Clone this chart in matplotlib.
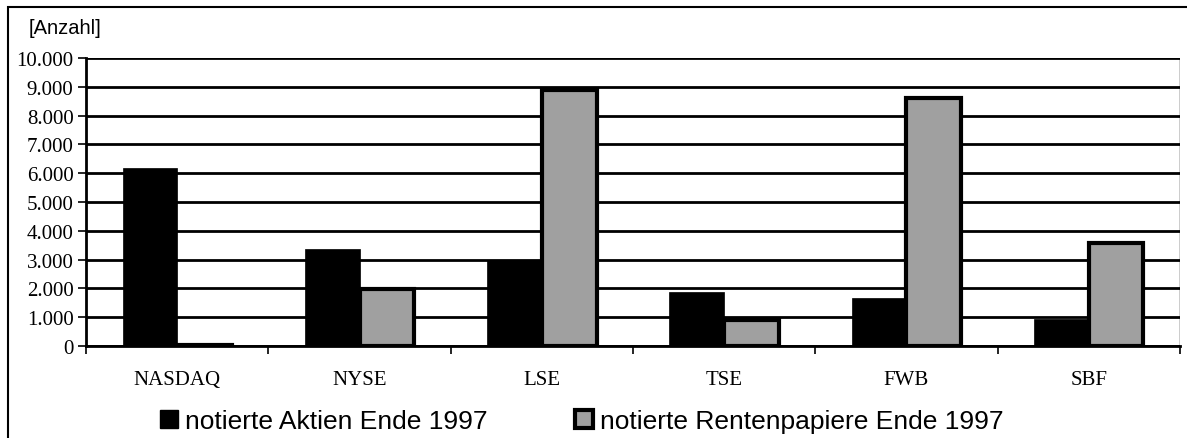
import matplotlib.pyplot as plt
import matplotlib.patches as mpatches
from matplotlib.ticker import FuncFormatter
import numpy as np

# Börsenplätze, Anzahl notierter Wertpapiere Ende 1997
boersen = ['NASDAQ', 'NYSE', 'LSE', 'TSE', 'FWB', 'SBF']
aktien = [6170, 3380, 3000, 1870, 1680, 950]
renten = [50, 1980, 8900, 900, 8620, 3560]

serif = 'Liberation Serif'
sans = 'Liberation Sans'

fig = plt.figure(figsize=(11.87, 4.39), dpi=100)
ax = fig.add_axes([0.0725, 0.2096, 0.9215, 0.656])

x = np.arange(len(boersen))
w = 0.3
ax.bar(x - w / 2, aktien, w, color='black', edgecolor='black', linewidth=0.5, zorder=3)
ax.bar(x + w / 2, renten, w, color='#a0a0a0', edgecolor='black', linewidth=3, zorder=3)

ax.set_xlim(-0.5, len(boersen) - 0.5)
ax.set_ylim(0, 10000)
ax.set_yticks(range(0, 10001, 1000))
ax.yaxis.set_major_formatter(FuncFormatter(lambda v, p: f'{int(v):,}'.replace(',', '.')))
ax.grid(axis='y', color='black', linewidth=2, zorder=0)

ax.set_xticks(x)
ax.set_xticklabels(boersen, fontfamily=serif, fontsize=15)
ax.set_xticks(np.arange(-0.5, len(boersen)), minor=True)
ax.tick_params(axis='x', which='major', length=0, pad=17)
ax.tick_params(axis='x', which='minor', length=6, width=1.2, direction='out')
ax.tick_params(axis='y', length=6, width=1.2, labelsize=15, pad=3)
for lab in ax.get_yticklabels():
    lab.set_fontfamily(serif)

for s in ['top', 'right']:
    ax.spines[s].set_visible(False)
ax.spines['left'].set_linewidth(2)
ax.spines['bottom'].set_linewidth(2)
ax.spines['left'].set_zorder(4)
ax.spines['bottom'].set_zorder(4)
ax.axvline(len(boersen) - 0.5, color='black', linewidth=1, zorder=4)

fig.text(0.0245, 0.936, '[Anzahl]', fontfamily=sans, fontsize=14.5, va='center')

# Rahmen um das Diagramm
frame = mpatches.Rectangle((8 / 1187, -0.1), 1.2, 1 - 8 / 439 + 0.1, transform=fig.transFigure,
                           fill=False, edgecolor='black', linewidth=1.5)
fig.patches.append(frame)

h1 = mpatches.Patch(facecolor='black', edgecolor='black', linewidth=1)
h2 = mpatches.Patch(facecolor='#a0a0a0', edgecolor='black', linewidth=3)
fig.legend([h1, h2], ['notierte Aktien Ende 1997', 'notierte Rentenpapiere Ende 1997'],
           loc='center', bbox_to_anchor=(0.49, 0.039), ncol=2, frameon=False,
           prop={'family': sans, 'size': 19}, handlelength=0.68, handleheight=0.68,
           handletextpad=0.27, columnspacing=3.3, borderpad=0, borderaxespad=0)

fig.savefig('out.png', dpi=100)
